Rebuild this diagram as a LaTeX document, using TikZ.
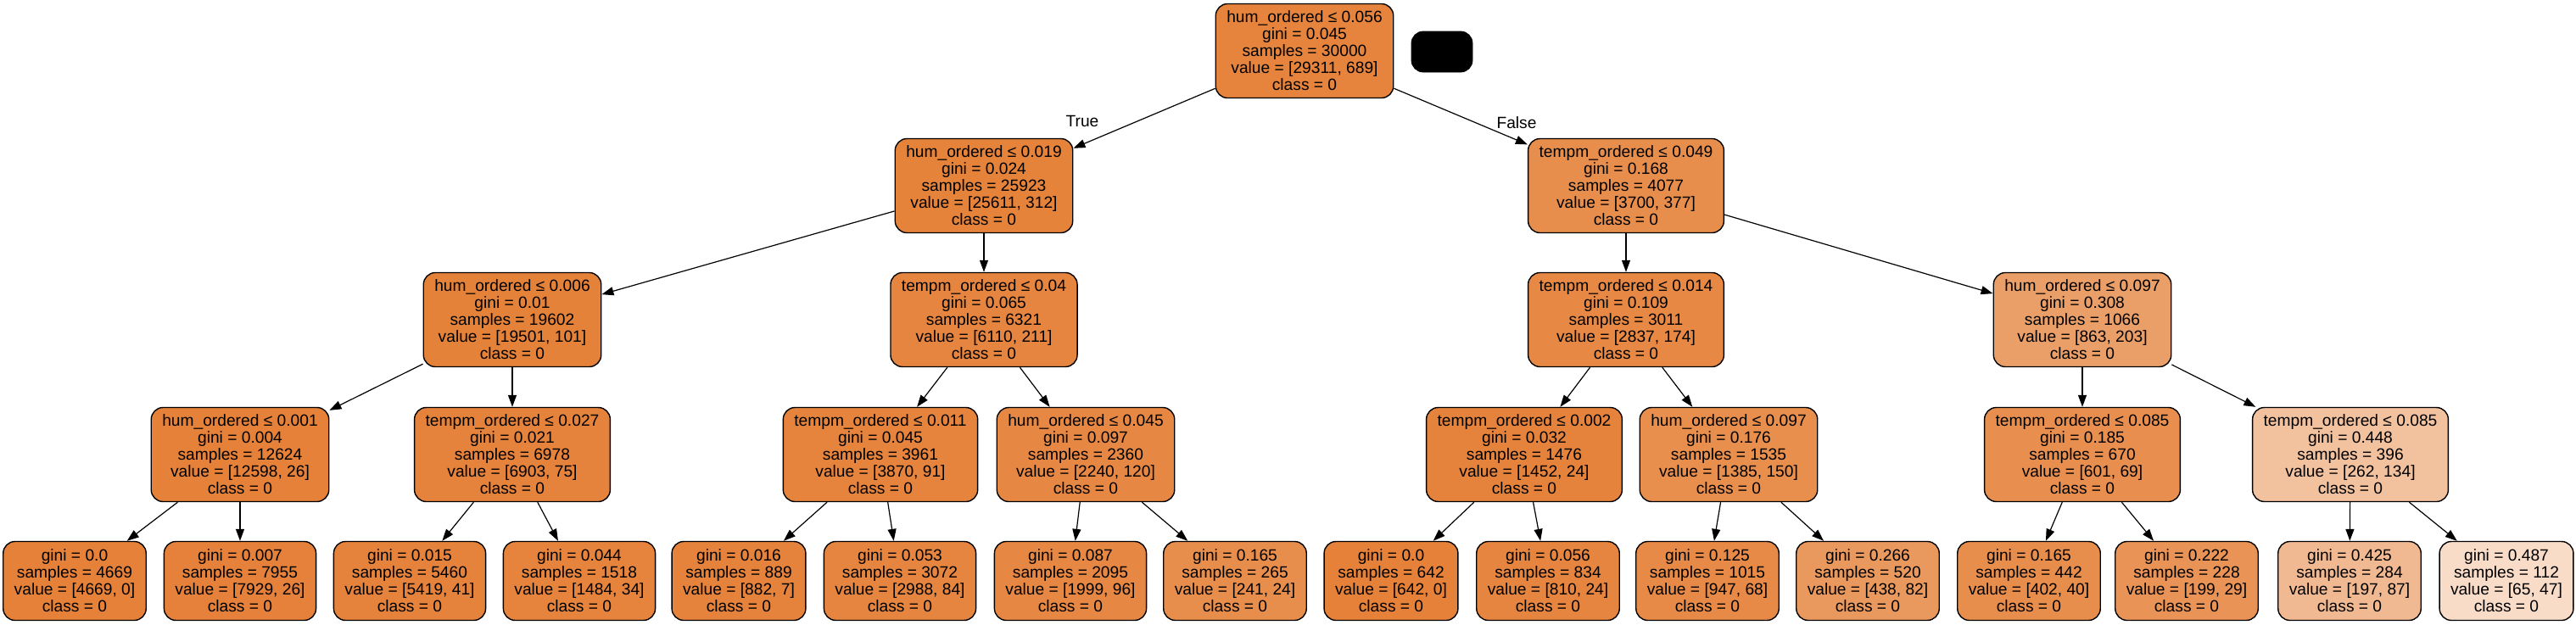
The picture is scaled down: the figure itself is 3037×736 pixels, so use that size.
\documentclass[tikz,border=0pt]{standalone}
\usepackage{fontspec}
\setmainfont{Liberation Sans}
\usetikzlibrary{arrows.meta}
\definecolor{treeorange}{RGB}{229,129,57}

\begin{document}
\begin{tikzpicture}[x=0.5pt, y=-0.5pt,
    box/.style={draw=black, line width=0.7pt, rounded corners=7pt, align=center,
      font=\fontsize{9.6}{10}\selectfont, inner xsep=6.5pt, inner ysep=0pt},
    split/.style={box, minimum height=55.5pt},
    leaf/.style={box, minimum height=46.5pt},
    edge/.style={line width=0.6pt, -{Triangle[length=7pt,width=5pt]}},
    branch/.style={font=\fontsize{9.6}{10}\selectfont}]
\useasboundingbox (0,0) rectangle (3037,736);

% root and first split
\node[split, fill=treeorange!97.6] (s0) at (1538,60) {hum\_ordered ≤ 0.056\\gini = 0.045\\samples = 30000\\value = [29311, 689]\\class = 0};
\node[draw, fill=black, rounded corners=7pt, minimum width=36pt, minimum height=24pt] (blank) at (1700,61) {};
\node[split, fill=treeorange!98.8] (s1) at (1160,219) {hum\_ordered ≤ 0.019\\gini = 0.024\\samples = 25923\\value = [25611, 312]\\class = 0};
\node[split, fill=treeorange!89.8] (s2) at (1917,219) {tempm\_ordered ≤ 0.049\\gini = 0.168\\samples = 4077\\value = [3700, 377]\\class = 0};

% depth 2
\node[split, fill=treeorange!99.5] (s3) at (604,377) {hum\_ordered ≤ 0.006\\gini = 0.01\\samples = 19602\\value = [19501, 101]\\class = 0};
\node[split, fill=treeorange!96.5] (s4) at (1160,377) {tempm\_ordered ≤ 0.04\\gini = 0.065\\samples = 6321\\value = [6110, 211]\\class = 0};
\node[split, fill=treeorange!93.9] (s5) at (1917,377) {tempm\_ordered ≤ 0.014\\gini = 0.109\\samples = 3011\\value = [2837, 174]\\class = 0};
\node[split, fill=treeorange!76.5] (s6) at (2455,377) {hum\_ordered ≤ 0.097\\gini = 0.308\\samples = 1066\\value = [863, 203]\\class = 0};

% depth 3
\node[split, fill=treeorange!99.8] (s7) at (283,536) {hum\_ordered ≤ 0.001\\gini = 0.004\\samples = 12624\\value = [12598, 26]\\class = 0};
\node[split, fill=treeorange!98.9] (s8) at (604,536) {tempm\_ordered ≤ 0.027\\gini = 0.021\\samples = 6978\\value = [6903, 75]\\class = 0};
\node[split, fill=treeorange!97.6] (s9) at (1038,536) {tempm\_ordered ≤ 0.011\\gini = 0.045\\samples = 3961\\value = [3870, 91]\\class = 0};
\node[split, fill=treeorange!94.6] (s10) at (1280,536) {hum\_ordered ≤ 0.045\\gini = 0.097\\samples = 2360\\value = [2240, 120]\\class = 0};
\node[split, fill=treeorange!98.3] (s11) at (1797,536) {tempm\_ordered ≤ 0.002\\gini = 0.032\\samples = 1476\\value = [1452, 24]\\class = 0};
\node[split, fill=treeorange!89.2] (s12) at (2038,536) {hum\_ordered ≤ 0.097\\gini = 0.176\\samples = 1535\\value = [1385, 150]\\class = 0};
\node[split, fill=treeorange!88.5] (s13) at (2455,536) {tempm\_ordered ≤ 0.085\\gini = 0.185\\samples = 670\\value = [601, 69]\\class = 0};
\node[split, fill=treeorange!48.9] (s14) at (2771,536) {tempm\_ordered ≤ 0.085\\gini = 0.448\\samples = 396\\value = [262, 134]\\class = 0};

% leaves
\node[leaf, fill=treeorange] (l1) at (88,685) {gini = 0.0\\samples = 4669\\value = [4669, 0]\\class = 0};
\node[leaf, fill=treeorange!99.7] (l2) at (283,685) {gini = 0.007\\samples = 7955\\value = [7929, 26]\\class = 0};
\node[leaf, fill=treeorange!99.2] (l3) at (483,685) {gini = 0.015\\samples = 5460\\value = [5419, 41]\\class = 0};
\node[leaf, fill=treeorange!97.7] (l4) at (683,685) {gini = 0.044\\samples = 1518\\value = [1484, 34]\\class = 0};
\node[leaf, fill=treeorange!99.2] (l5) at (871,685) {gini = 0.016\\samples = 889\\value = [882, 7]\\class = 0};
\node[leaf, fill=treeorange!97.2] (l6) at (1061,685) {gini = 0.053\\samples = 3072\\value = [2988, 84]\\class = 0};
\node[leaf, fill=treeorange!95.2] (l7) at (1262,685) {gini = 0.087\\samples = 2095\\value = [1999, 96]\\class = 0};
\node[leaf, fill=treeorange!90.0] (l8) at (1456,685) {gini = 0.165\\samples = 265\\value = [241, 24]\\class = 0};
\node[leaf, fill=treeorange] (l9) at (1640,685) {gini = 0.0\\samples = 642\\value = [642, 0]\\class = 0};
\node[leaf, fill=treeorange!97.0] (l10) at (1825,685) {gini = 0.056\\samples = 834\\value = [810, 24]\\class = 0};
\node[leaf, fill=treeorange!92.8] (l11) at (2013,685) {gini = 0.125\\samples = 1015\\value = [947, 68]\\class = 0};
\node[leaf, fill=treeorange!81.3] (l12) at (2202,685) {gini = 0.266\\samples = 520\\value = [438, 82]\\class = 0};
\node[leaf, fill=treeorange!90.0] (l13) at (2392,685) {gini = 0.165\\samples = 442\\value = [402, 40]\\class = 0};
\node[leaf, fill=treeorange!85.4] (l14) at (2578,685) {gini = 0.222\\samples = 228\\value = [199, 29]\\class = 0};
\node[leaf, fill=treeorange!55.8] (l15) at (2770,685) {gini = 0.425\\samples = 284\\value = [197, 87]\\class = 0};
\node[leaf, fill=treeorange!27.7] (l16) at (2955,685) {gini = 0.487\\samples = 112\\value = [65, 47]\\class = 0};

% branches
\draw[edge] (s0) -- (s1);
\draw[edge] (s0) -- (s2);
\node[branch] (true) at (1276,143) {True};
\node[branch] (false) at (1788,145) {False};
\draw[edge] (s1) -- (s3);
\draw[edge] (s1) -- (s4);
\draw[edge] (s2) -- (s5);
\draw[edge] (s2) -- (s6);
\draw[edge] (s3) -- (s7);
\draw[edge] (s3) -- (s8);
\draw[edge] (s4) -- (s9);
\draw[edge] (s4) -- (s10);
\draw[edge] (s5) -- (s11);
\draw[edge] (s5) -- (s12);
\draw[edge] (s6) -- (s13);
\draw[edge] (s6) -- (s14);
\draw[edge] (s7) -- (l1);
\draw[edge] (s7) -- (l2);
\draw[edge] (s8) -- (l3);
\draw[edge] (s8) -- (l4);
\draw[edge] (s9) -- (l5);
\draw[edge] (s9) -- (l6);
\draw[edge] (s10) -- (l7);
\draw[edge] (s10) -- (l8);
\draw[edge] (s11) -- (l9);
\draw[edge] (s11) -- (l10);
\draw[edge] (s12) -- (l11);
\draw[edge] (s12) -- (l12);
\draw[edge] (s13) -- (l13);
\draw[edge] (s13) -- (l14);
\draw[edge] (s14) -- (l15);
\draw[edge] (s14) -- (l16);
\end{tikzpicture}
\end{document}
